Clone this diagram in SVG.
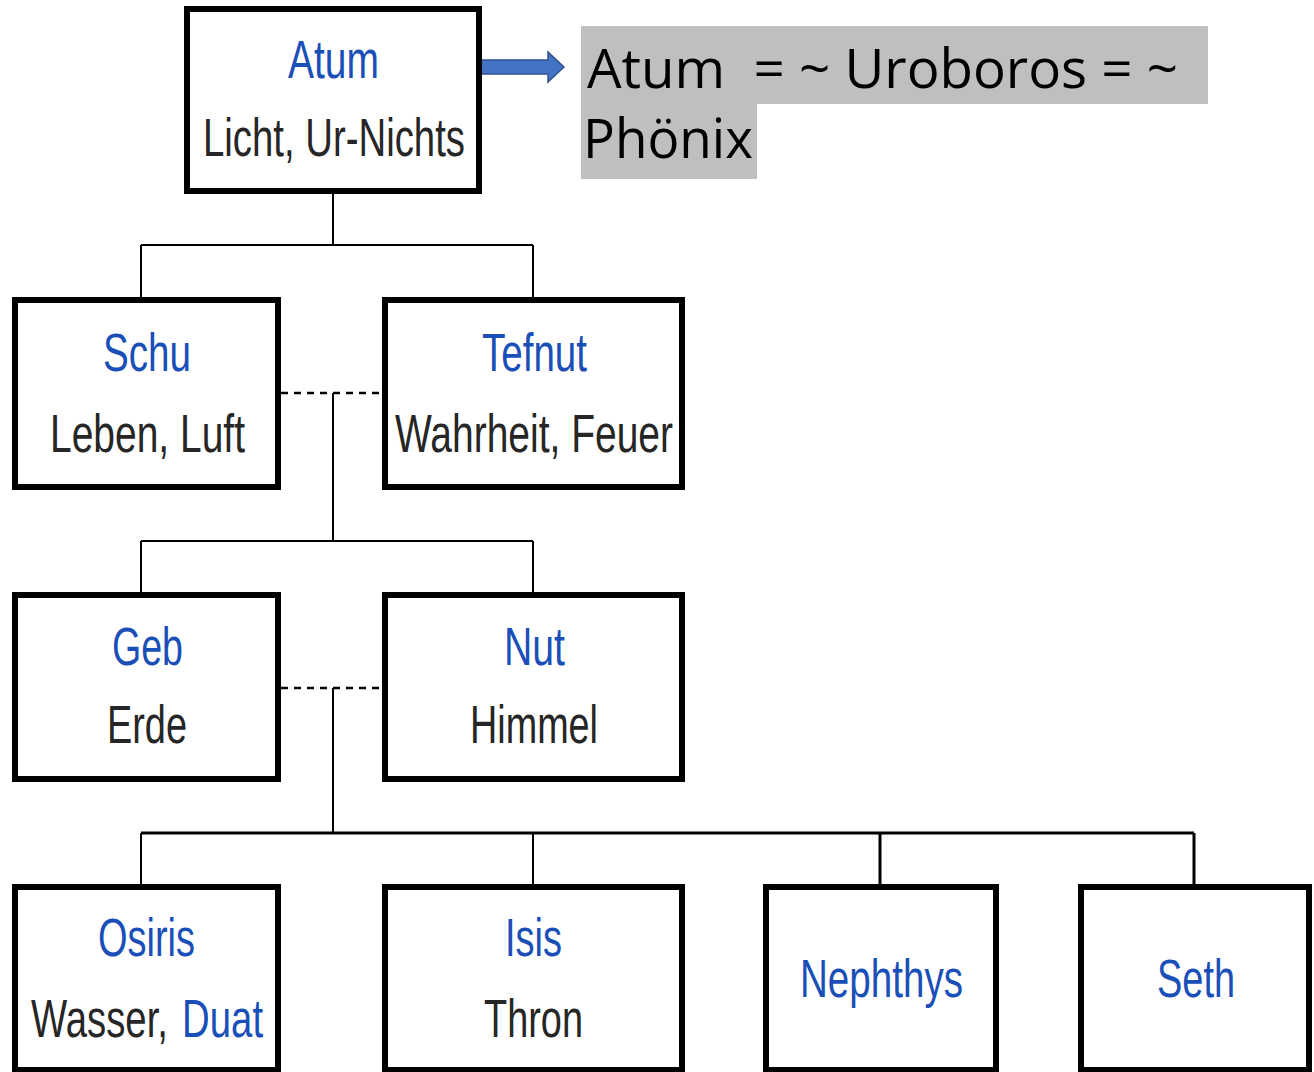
<svg xmlns="http://www.w3.org/2000/svg" width="1314" height="1072" viewBox="0 0 1314 1072">
<style>
.box{fill:#fff;stroke:#000;stroke-width:6}
.ln{stroke:#000;stroke-width:2;fill:none}
.bar{stroke:#000;stroke-width:3;fill:none}
.dash{stroke:#000;stroke-width:2.5;stroke-dasharray:7 6;fill:none}
.nm{font-family:"Liberation Sans",Arial,sans-serif;font-size:53px;fill:#1a4fb8}
.ds{font-family:"Liberation Sans",Arial,sans-serif;font-size:53px;fill:#262626}
.big{font-family:"Open Sans","Noto Sans",sans-serif;font-size:55px;fill:#000}
</style>
<rect width="1314" height="1072" fill="#fff"/>
<g id="connectors">
<path class="ln" d="M333 194V245M141 245H533M141 245V297M533 245V297"/>
<path class="dash" d="M281 393H382"/>
<path class="ln" d="M333 393V541M141 541H533M141 541V592M533 541V592"/>
<path class="dash" d="M281 688H382"/>
<path class="ln" d="M333 688V833"/>
<path class="bar" d="M141 833H1194"/>
<path class="ln" d="M141 833V884M533 833V884"/>
<path class="bar" d="M880 833V884M1194 833V884"/>
<g id="arrow">
<path d="M478 60H548V52L564 67L548 82V74H478Z" fill="#4472C4" stroke="#2F528F" stroke-width="1.5"/>
</g>
</g>
<g id="note">
<rect x="581" y="26" width="627" height="78" fill="#bfbfbf"/>
<rect x="581" y="103" width="176" height="76" fill="#bfbfbf"/>
<text class="big" x="587" y="88" textLength="591" lengthAdjust="spacingAndGlyphs" xml:space="preserve">Atum  = ~ Uroboros = ~</text>
<text class="big" x="583" y="158" textLength="170" lengthAdjust="spacingAndGlyphs">Phönix</text>
</g>
<g id="atum">
<rect class="box" x="187" y="9" width="292" height="182"/>
<text class="nm" x="288" y="78" textLength="91" lengthAdjust="spacingAndGlyphs">Atum</text>
<text class="ds" x="203" y="156" textLength="262" lengthAdjust="spacingAndGlyphs">Licht, Ur-Nichts</text>
</g>
<g id="schu">
<rect class="box" x="15" y="300" width="263" height="187"/>
<text class="nm" x="103" y="371" textLength="88" lengthAdjust="spacingAndGlyphs">Schu</text>
<text class="ds" x="50" y="452" textLength="195" lengthAdjust="spacingAndGlyphs">Leben, Luft</text>
</g>
<g id="tefnut">
<rect class="box" x="385" y="300" width="297" height="187"/>
<text class="nm" x="482" y="371" textLength="105" lengthAdjust="spacingAndGlyphs">Tefnut</text>
<text class="ds" x="395" y="452" textLength="278" lengthAdjust="spacingAndGlyphs">Wahrheit, Feuer</text>
</g>
<g id="geb">
<rect class="box" x="15" y="595" width="263" height="184"/>
<text class="nm" x="112" y="665" textLength="71" lengthAdjust="spacingAndGlyphs">Geb</text>
<text class="ds" x="107" y="743" textLength="80" lengthAdjust="spacingAndGlyphs">Erde</text>
</g>
<g id="nut">
<rect class="box" x="385" y="595" width="297" height="184"/>
<text class="nm" x="504" y="665" textLength="61" lengthAdjust="spacingAndGlyphs">Nut</text>
<text class="ds" x="470" y="743" textLength="128" lengthAdjust="spacingAndGlyphs">Himmel</text>
</g>
<g id="osiris">
<rect class="box" x="15" y="887" width="263" height="183"/>
<text class="nm" x="98" y="956" textLength="97" lengthAdjust="spacingAndGlyphs">Osiris</text>
<g transform="translate(31,1037) scale(0.723,1)">
<text class="ds" x="0" y="0">Wasser,</text>
<text class="nm" x="209" y="0">Duat</text>
</g>
</g>
<g id="isis">
<rect class="box" x="385" y="887" width="297" height="183"/>
<text class="nm" x="505" y="956" textLength="57" lengthAdjust="spacingAndGlyphs">Isis</text>
<text class="ds" x="484" y="1037" textLength="99" lengthAdjust="spacingAndGlyphs">Thron</text>
</g>
<g id="nephthys">
<rect class="box" x="766" y="887" width="230" height="183"/>
<text class="nm" x="800" y="997" textLength="163" lengthAdjust="spacingAndGlyphs">Nephthys</text>
</g>
<g id="seth">
<rect class="box" x="1081" y="887" width="228" height="183"/>
<text class="nm" x="1157" y="997" textLength="78" lengthAdjust="spacingAndGlyphs">Seth</text>
</g>
</svg>
